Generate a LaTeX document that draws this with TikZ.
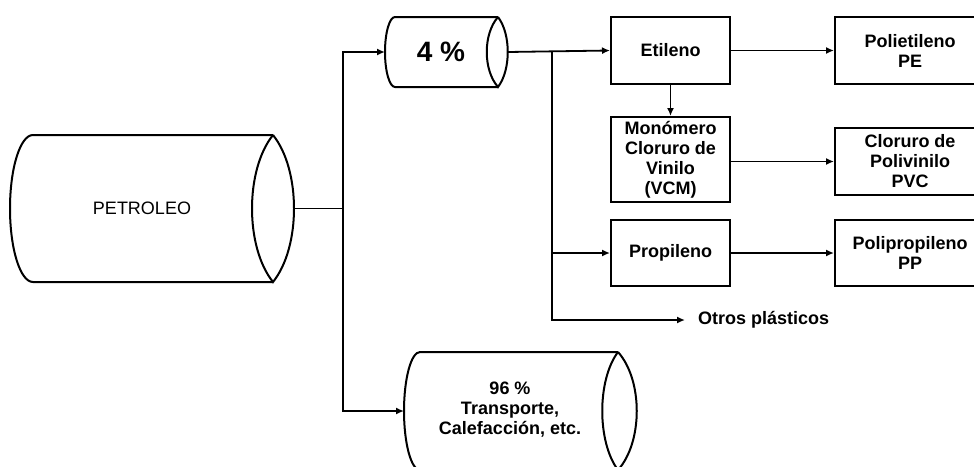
\documentclass[tikz,border=0pt]{standalone}
\usepackage{fontspec}
\setmainfont{Liberation Sans}
\usetikzlibrary{arrows.meta}
\begin{document}
\begin{tikzpicture}[x=1pt,y=-1pt,
  box/.style={draw, line width=2pt, font=\fontsize{18}{20}\selectfont\bfseries, align=center, inner sep=0pt},
  txt/.style={font=\fontsize{18}{20}\selectfont\bfseries, align=center, inner sep=0pt},
  cyl/.style={line width=2pt},
  arr/.style={-{Latex[length=8pt,width=7pt]}, line width=1.8pt},
  ln/.style={line width=1.8pt}]
\useasboundingbox (0,0) rectangle (974,466);
\clip (0,0) rectangle (974,466);

% PETROLEO cylinder
\draw[cyl] (273,135) -- (33,135) .. controls (20.3,135) and (10,167.9) .. (10,208.5)
  .. controls (10,249.1) and (20.3,282) .. (33,282) -- (273,282);
\draw[cyl] (273,135) .. controls (301,170) and (301,247) .. (273,282)
  .. controls (245,247) and (245,170) .. (273,135);
\node[font=\fontsize{18}{20}\selectfont, inner sep=0pt] (petroleo) at (142,208.5) {PETROLEO};
\coordinate (petR) at (294,208.5);

% 4 % cylinder
\draw[cyl] (498,17) -- (395,17) .. controls (389.5,17) and (385,32.7) .. (385,52)
  .. controls (385,71.3) and (389.5,87) .. (395,87) -- (498,87);
\draw[cyl] (498,17) .. controls (511,34) and (511,70) .. (498,87)
  .. controls (483,70) and (483,34) .. (498,17);
\node[font=\fontsize{28}{30}\selectfont\bfseries, inner sep=0pt] (p4) at (441,52) {4 \%};
\coordinate (c4L) at (385,52);
\coordinate (c4R) at (508,52);

% 96 % cylinder
\draw[cyl] (618,352) -- (420,352) .. controls (411.2,352) and (404,378.4) .. (404,411)
  .. controls (404,443.6) and (411.2,470) .. (420,470) -- (618,470);
\draw[cyl] (618,352) .. controls (643,380) and (643,442) .. (618,470)
  .. controls (597,442) and (597,380) .. (618,352);
\node[txt] (p96) at (510,410) {96 \%\\Transporte,\\Calefacción, etc.};
\coordinate (c96L) at (404,411);

% boxes
\node[box, minimum width=119pt, minimum height=67pt] (etileno) at (670.5,50.5) {Etileno};
\node[box, minimum width=119pt, minimum height=85pt] (monomero) at (670.5,159.5) {Monómero\\Cloruro de\\Vinilo\\(VCM)};
\node[box, minimum width=119pt, minimum height=66pt] (propileno) at (670.5,253) {Propileno};
\node[box, minimum width=150pt, minimum height=67pt] (pe) at (910,50.5) {Polietileno\\PE};
\node[box, minimum width=150pt, minimum height=67pt] (pvc) at (910,161.5) {Cloruro de\\Polivinilo\\PVC};
\node[box, minimum width=150pt, minimum height=66pt] (pp) at (910,253) {Polipropileno\\PP};
\node[txt, anchor=west] (otros) at (698,320) {Otros plásticos};

% connectors
\coordinate (j1) at (343,208.5);
\draw[ln] (petR) -- (j1);
\draw[arr] (j1) |- (c4L);
\draw[arr] (j1) |- (c96L);

\coordinate (j2) at (552,52);
\draw[arr] (c4R) -- (etileno.west);
\draw[arr] (j2) |- (propileno.west);
\draw[arr, shorten >=13pt] (j2) |- (otros.west);

\draw[arr] (etileno.south) -- (monomero.north);
\draw[arr] (etileno.east) -- (pe.west);
\draw[arr] (monomero.east |- pvc.west) -- (pvc.west);
\draw[arr] (propileno.east) -- (pp.west);
\end{tikzpicture}
\end{document}
